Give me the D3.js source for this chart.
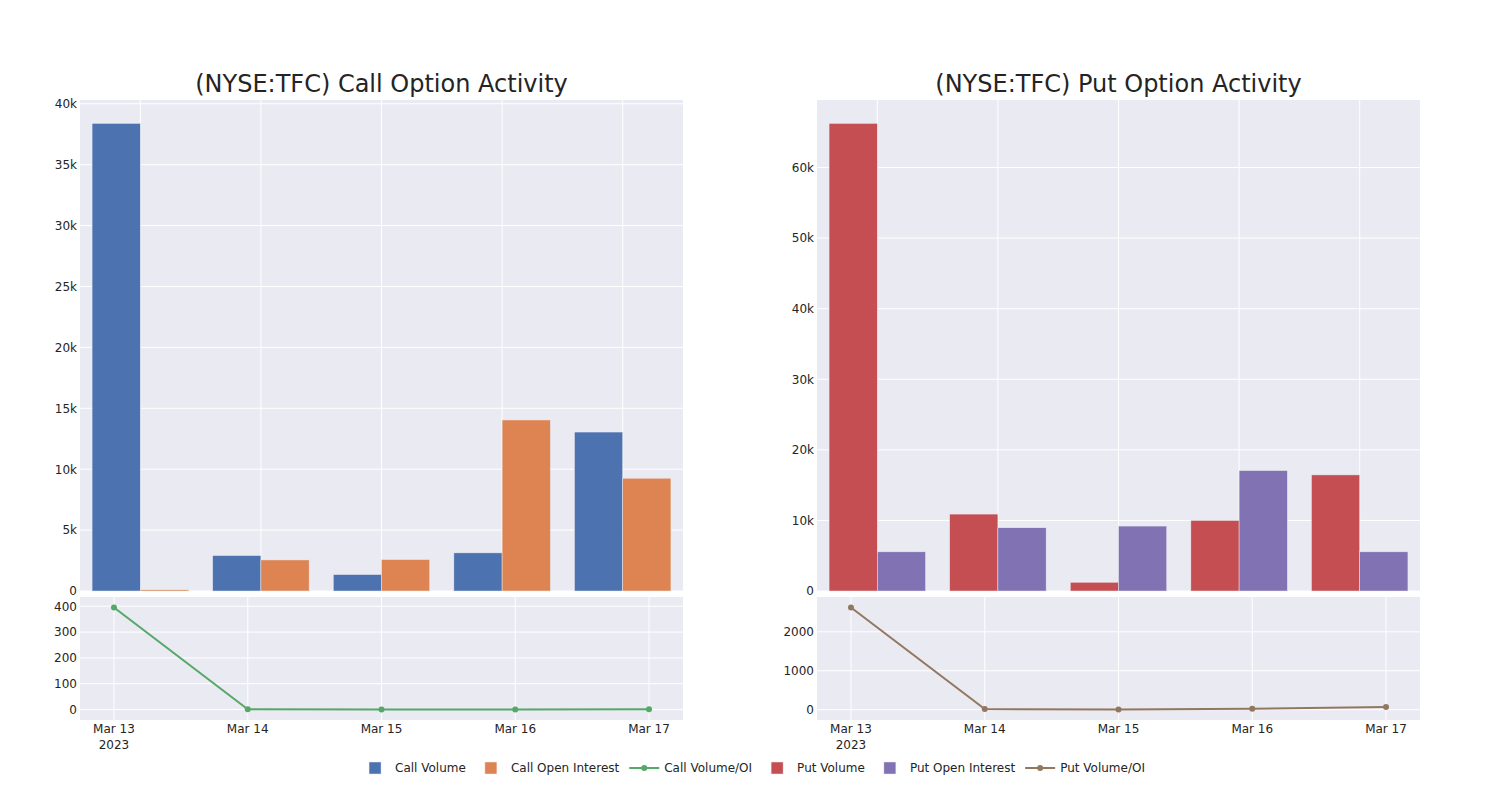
<!DOCTYPE html>
<html>
<head>
<meta charset="utf-8">
<script src="https://cdn.jsdelivr.net/npm/d3@7"></script>
<style>
  html, body { margin: 0; padding: 0; background: #fff; }
  svg { display: block; }
  text { font-family: "DejaVu Sans", verdana, arial, sans-serif; fill: rgb(36,36,36); }
</style>
</head>
<body>
<svg id="chart" width="1500" height="800"></svg>
<script>
// ---------------- data ----------------
const dates = ["2023-03-13", "2023-03-14", "2023-03-15", "2023-03-16", "2023-03-17"];
const callVolume = [38390, 2910, 1350, 3130, 13050];
const callOpenInterest = [97, 2550, 2580, 14040, 9260];
const callVolOI = [395, 1.14, 0.52, 0.22, 1.41];
const putVolume = [66260, 10900, 1240, 10000, 16450];
const putOpenInterest = [5550, 8960, 9200, 17060, 5550];
const putVolOI = [2624, 15, 5, 25, 70];
const titles = ["(NYSE:TFC) Call Option Activity", "(NYSE:TFC) Put Option Activity"];
const legendLabels = ["Call Volume", "Call Open Interest", "Call Volume/OI", "Put Volume", "Put Open Interest", "Put Volume/OI"];
const colors = {
  callVol: "#4c72b0", callOI: "#dd8452", callRatio: "#55a868",
  putVol: "#c44e52", putOI: "#8172b3", putRatio: "#937860"
};

// ---------------- layout ----------------
const FONT = "'DejaVu Sans', verdana, arial, sans-serif";
const svg = d3.select("#chart");
const bg = "rgb(234,234,242)";
const parse = d3.utcParse("%Y-%m-%d");
const dayMs = 86400000;
const dts = dates.map(parse);

const panels = [
  { x0: 80, x1: 683, vol: callVolume, oi: callOpenInterest, ratio: callVolOI,
    cVol: colors.callVol, cOI: colors.callOI, cRatio: colors.callRatio,
    topTicks: d3.range(0, 40001, 5000), botTicks: [0, 100, 200, 300, 400], title: titles[0] },
  { x0: 817, x1: 1420, vol: putVolume, oi: putOpenInterest, ratio: putVolOI,
    cVol: colors.putVol, cOI: colors.putOI, cRatio: colors.putRatio,
    topTicks: d3.range(0, 60001, 10000), botTicks: [0, 1000, 2000], title: titles[1] }
];
const topY0 = 100, topY1 = 591, botY0 = 597, botY1 = 720;
const kfmt = d3.format("~s");

panels.forEach(p => {
  const g = svg.append("g");
  // title
  g.append("text").attr("x", (p.x0 + p.x1) / 2).attr("y", 84)
    .attr("text-anchor", "middle").attr("dominant-baseline", "central")
    .style("font-size", "24px").text(p.title);

  // ---- top bar chart ----
  const xTop = d3.scaleUtc()
    .domain([new Date(+dts[0] - dayMs / 2), new Date(+dts[dts.length - 1] + dayMs / 2)])
    .range([p.x0, p.x1]);
  const maxV = d3.max([...p.vol, ...p.oi]);
  const yTop = d3.scaleLinear().domain([0, maxV * 1.05]).range([topY1, topY0]);
  g.append("rect").attr("x", p.x0).attr("y", topY0).attr("width", p.x1 - p.x0)
    .attr("height", topY1 - topY0).attr("fill", bg);
  // grid
  g.append("g").selectAll("line").data(p.topTicks).join("line")
    .attr("x1", p.x0).attr("x2", p.x1)
    .attr("y1", d => yTop(d)).attr("y2", d => yTop(d))
    .attr("stroke", "#fff").attr("stroke-width", 1);
  g.append("g").selectAll("line").data(dts).join("line")
    .attr("x1", d => xTop(d)).attr("x2", d => xTop(d))
    .attr("y1", topY0).attr("y2", topY1)
    .attr("stroke", "#fff").attr("stroke-width", 1);
  // y axis labels
  const yAxTop = d3.axisLeft(yTop).tickValues(p.topTicks).tickFormat(d => d === 0 ? "0" : kfmt(d)).tickSize(0).tickPadding(2);
  const ag = g.append("g").attr("transform", `translate(${p.x0 - 1},0)`).call(yAxTop);
  ag.select(".domain").remove();
  ag.selectAll("text").style("font-size", "12px").attr("fill", "rgb(36,36,36)").style("font-family", FONT);
  // bars
  const dayW = xTop(new Date(+dts[0] + dayMs)) - xTop(dts[0]);
  const groupW = dayW * 0.8;
  const xSub = d3.scaleBand().domain(["vol", "oi"]).range([-groupW / 2, groupW / 2]);
  const barData = [];
  dts.forEach((d, i) => {
    barData.push({ d, key: "vol", v: p.vol[i], c: p.cVol });
    barData.push({ d, key: "oi", v: p.oi[i], c: p.cOI });
  });
  g.append("g").selectAll("rect").data(barData).join("rect")
    .attr("x", b => xTop(b.d) + xSub(b.key))
    .attr("width", xSub.bandwidth())
    .attr("y", b => yTop(b.v))
    .attr("height", b => yTop(0) - yTop(b.v))
    .attr("fill", b => b.c)
    .attr("stroke", bg).attr("stroke-width", 0.5);

  // ---- bottom line chart ----
  const pad = 0.254 * dayMs;
  const xBot = d3.scaleUtc()
    .domain([new Date(+dts[0] - pad), new Date(+dts[dts.length - 1] + pad)])
    .range([p.x0, p.x1]);
  const rmin = d3.min(p.ratio), rmax = d3.max(p.ratio);
  const rp = (rmax - rmin) * 0.103;
  const yBot = d3.scaleLinear().domain([rmin - rp, rmax + rp]).range([botY1, botY0]);
  g.append("rect").attr("x", p.x0).attr("y", botY0).attr("width", p.x1 - p.x0)
    .attr("height", botY1 - botY0).attr("fill", bg);
  g.append("g").selectAll("line").data(p.botTicks).join("line")
    .attr("x1", p.x0).attr("x2", p.x1)
    .attr("y1", d => yBot(d)).attr("y2", d => yBot(d))
    .attr("stroke", "#fff").attr("stroke-width", 1);
  g.append("g").selectAll("line").data(dts).join("line")
    .attr("x1", d => xBot(d)).attr("x2", d => xBot(d))
    .attr("y1", botY0).attr("y2", botY1)
    .attr("stroke", "#fff").attr("stroke-width", 1);
  const yAxBot = d3.axisLeft(yBot).tickValues(p.botTicks).tickFormat(d3.format("d")).tickSize(0).tickPadding(2);
  const bg2 = g.append("g").attr("transform", `translate(${p.x0 - 1},0)`).call(yAxBot);
  bg2.select(".domain").remove();
  bg2.selectAll("text").style("font-size", "12px").attr("fill", "rgb(36,36,36)").style("font-family", FONT);
  // x tick labels
  const xl = g.append("g");
  const mfmt = d3.utcFormat("%b %-d");
  dts.forEach((d, i) => {
    const t = xl.append("text").attr("x", xBot(d)).attr("y", 733)
      .attr("text-anchor", "middle").style("font-size", "12px");
    t.append("tspan").attr("x", xBot(d)).text(mfmt(d));
    if (i === 0) t.append("tspan").attr("x", xBot(d)).attr("dy", 16).text(d3.utcFormat("%Y")(d));
  });
  // line + markers
  const line = d3.line().x((v, i) => xBot(dts[i])).y(v => yBot(v));
  g.append("path").datum(p.ratio).attr("d", line)
    .attr("fill", "none").attr("stroke", p.cRatio).attr("stroke-width", 2);
  g.append("g").selectAll("circle").data(p.ratio).join("circle")
    .attr("cx", (v, i) => xBot(dts[i])).attr("cy", v => yBot(v)).attr("r", 3)
    .attr("fill", p.cRatio);
});

// ---------------- legend ----------------
const legendItems = [
  { label: legendLabels[0], type: "bar", c: colors.callVol },
  { label: legendLabels[1], type: "bar", c: colors.callOI },
  { label: legendLabels[2], type: "line", c: colors.callRatio },
  { label: legendLabels[3], type: "bar", c: colors.putVol },
  { label: legendLabels[4], type: "bar", c: colors.putOI },
  { label: legendLabels[5], type: "line", c: colors.putRatio }
];
const lg = svg.append("g");
let cx = 0;
const ly = 768;
legendItems.forEach(it => {
  const ig = lg.append("g").attr("transform", `translate(${cx},0)`);
  if (it.type === "bar") {
    ig.append("rect").attr("x", 14).attr("y", ly - 6).attr("width", 12).attr("height", 12)
      .attr("fill", it.c).attr("stroke", bg).attr("stroke-width", 0.5);
  } else {
    ig.append("line").attr("x1", 5).attr("x2", 35).attr("y1", ly).attr("y2", ly)
      .attr("stroke", it.c).attr("stroke-width", 2);
    ig.append("circle").attr("cx", 20).attr("cy", ly).attr("r", 3).attr("fill", it.c);
  }
  const t = ig.append("text").attr("x", 40).attr("y", ly).attr("dominant-baseline", "central")
    .style("font-size", "12px").text(it.label);
  cx += 40 + t.node().getComputedTextLength() + 5;
});
const totalW = cx - 5;
lg.attr("transform", `translate(${750 - totalW / 2},0)`);
</script>
</body>
</html>
